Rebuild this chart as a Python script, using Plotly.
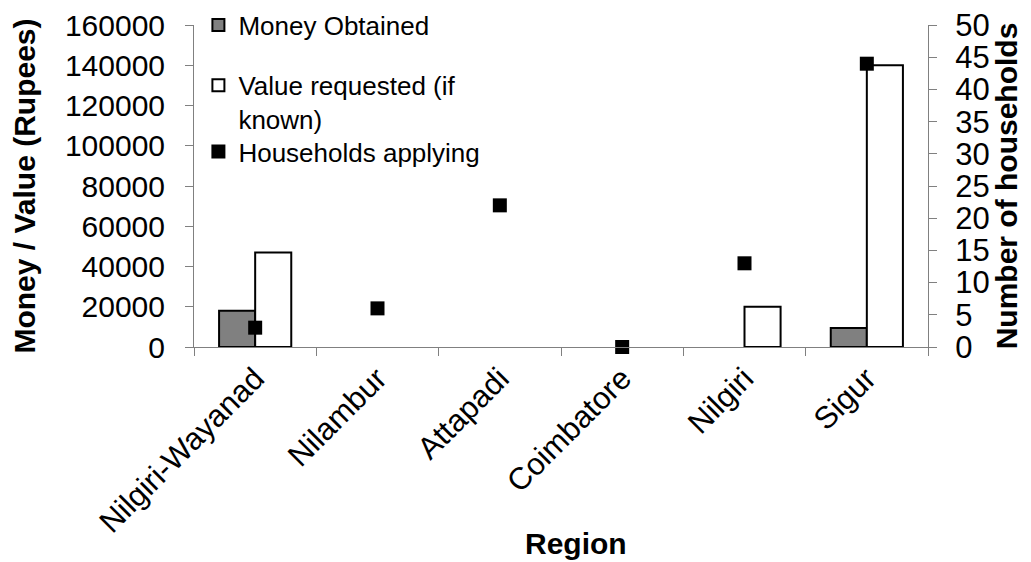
import plotly.graph_objects as go

regions = ["Nilgiri-Wayanad", "Nilambur", "Attapadi", "Coimbatore", "Nilgiri", "Sigur"]
money_obtained = [18000, None, None, None, None, 9500]
value_requested = [47000, None, None, None, 20000, 140000]
households = [3, 6, 22, 0, 13, 44]

FONT = "Liberation Sans, Arial, sans-serif"
GREY = "#808080"
LEG_FONT = dict(size=26, family=FONT, color="black")

fig = go.Figure()
fig.add_trace(go.Bar(
    x=regions, y=money_obtained, name="Money Obtained",
    marker=dict(color="#808080", line=dict(color="black", width=2)),
    legend="legend",
))
fig.add_trace(go.Bar(
    x=regions, y=value_requested, name="Value requested (if<br>known)",
    marker=dict(color="white", line=dict(color="black", width=2)),
    legend="legend2",
))
fig.add_trace(go.Scatter(
    x=regions, y=households, name="Households applying", yaxis="y2",
    mode="markers", marker=dict(symbol="square", size=14, color="black"),
    cliponaxis=False, legend="legend3",
))

leg_common = dict(x=0.006, xanchor="left", yanchor="middle",
                  bgcolor="rgba(0,0,0,0)", font=LEG_FONT, valign="top",
                  borderwidth=0)

fig.update_layout(
    width=1023, height=554,
    margin=dict(l=186, r=103, t=17, b=215, autoexpand=False),
    paper_bgcolor="white", plot_bgcolor="white",
    font=dict(family=FONT, color="black", size=22),
    barmode="group", bargap=0.41, bargroupgap=0,
    showlegend=True,
    legend=dict(y=1.0, **leg_common),
    legend2=dict(y=0.76, **leg_common),
    legend3=dict(y=0.607, **leg_common),
    xaxis=dict(
        automargin=False,
        showline=True, linecolor=GREY, linewidth=1,
        ticks="outside", tickson="boundaries", ticklen=8, tickcolor=GREY,
        tickangle=-45, tickfont=dict(size=31, family=FONT),
        showgrid=False, zeroline=False,
    ),
    yaxis=dict(
        automargin=False,
        range=[0, 160000], dtick=20000, tickformat="d",
        showline=True, linecolor=GREY, linewidth=1,
        ticks="outside", ticklen=8, tickcolor=GREY,
        tickfont=dict(size=30, family=FONT), ticklabelstandoff=14,
        ticklabeloverflow="allow",
        title=dict(text="<b>Money / Value (Rupees)</b>", font=dict(size=30, family=FONT), standoff=20),
        showgrid=False, zeroline=False,
    ),
    yaxis2=dict(
        automargin=False,
        range=[0, 50.01], dtick=5, overlaying="y", side="right",
        showline=True, linecolor=GREY, linewidth=1,
        ticks="outside", ticklen=8, tickcolor=GREY,
        tickfont=dict(size=31, family=FONT), ticklabelstandoff=12,
        ticklabeloverflow="allow",
        title=dict(text="<b>Number of households</b>", font=dict(size=30, family=FONT), standoff=4),
        showgrid=False, zeroline=False,
    ),
    annotations=[dict(
        text="<b>Region</b>", xref="paper", yref="paper", x=0.52, y=-0.609,
        xanchor="center", yanchor="middle", showarrow=False,
        font=dict(size=30, family=FONT, color="black"),
    )],
)

fig.write_html("out.html")
